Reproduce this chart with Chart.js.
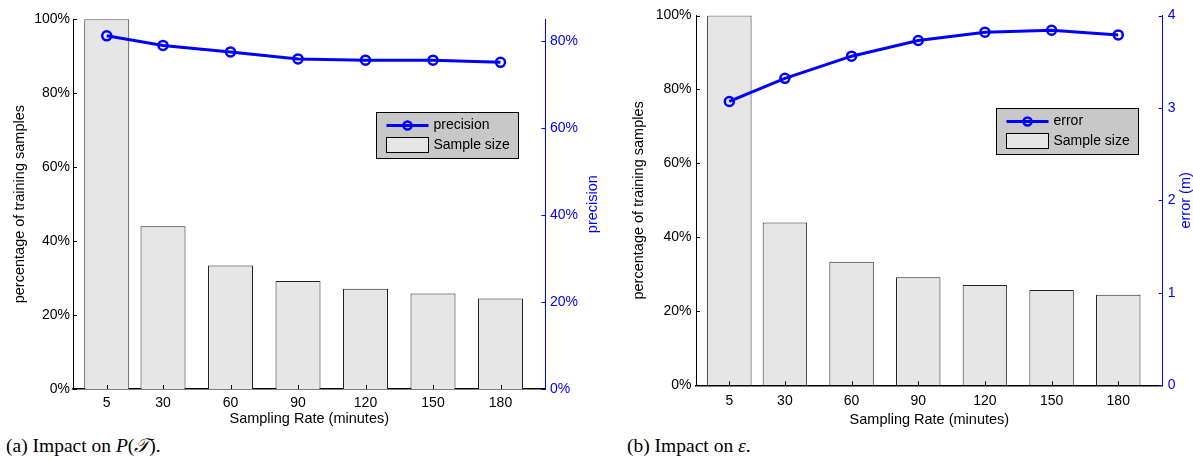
<!DOCTYPE html>
<html lang="en">
  <head>
    <meta charset="UTF-8" />
    <title>Sampling rate impact</title>
    <script src="https://cdn.jsdelivr.net/npm/chart.js"></script>
    <style>
      body {
        margin: 0;
        background: #fff;
        width: 1193px;
        height: 460px;
        position: relative;
        overflow: hidden;
      }
      .box { position: absolute; top: 0; height: 432px; }
      #boxA { left: 0; width: 600px; }
      #boxB { left: 624px; width: 569px; }
      .cap {
        position: absolute;
        top: 435px;
        font-family: "Liberation Serif", "DejaVu Serif", serif;
        font-size: 19.5px;
        color: #000;
        white-space: nowrap;
      }
    </style>
  </head>
  <body>
    <div class="box" id="boxA"><canvas id="chartA"></canvas></div>
    <div class="box" id="boxB"><canvas id="chartB"></canvas></div>
    <div class="cap" style="left: 6px">(a) Impact on <i>P</i>(<i>𝒯</i>).</div>
    <div class="cap" style="left: 627px">(b) Impact on <i>ε</i>.</div>

    <script>
      // data
      const rates = [5, 30, 60, 90, 120, 150, 180];
      const sampleSize = [100, 44, 33.4, 29.2, 27.1, 25.8, 24.5];
      const precision = [81.2, 79.0, 77.5, 75.9, 75.6, 75.6, 75.1];
      const errorM = [3.07, 3.32, 3.56, 3.73, 3.82, 3.84, 3.79];

      const pctTicks = [0, 20, 40, 60, 80, 100];
      const precTicks = [0, 20, 40, 60, 80];
      const errTicks = [0, 1, 2, 3, 4];

      const BLUE = "#0000ff";
      const FONT = "'Liberation Sans', Arial, sans-serif";

      // inward ticks, right-hand title and the boxed legend, drawn like matlab does
      const matlabBits = {
        id: "matlabBits",
        afterDraw(chart, args, opts) {
          const { ctx, chartArea: a, scales } = chart;
          ctx.save();
          ctx.lineWidth = 1;
          ctx.strokeStyle = "#000";
          ctx.beginPath();
          scales.x.ticks.forEach((t) => {
            const px = Math.round(scales.x.getPixelForValue(t.value)) + 0.5;
            ctx.moveTo(px, a.bottom);
            ctx.lineTo(px, a.bottom - 4);
          });
          scales.y.ticks.forEach((t) => {
            const py = Math.round(scales.y.getPixelForValue(t.value)) + 0.5;
            ctx.moveTo(a.left, py);
            ctx.lineTo(a.left + 4, py);
          });
          ctx.stroke();
          ctx.strokeStyle = BLUE;
          ctx.beginPath();
          scales.y2.ticks.forEach((t) => {
            const py = Math.round(scales.y2.getPixelForValue(t.value)) + 0.5;
            ctx.moveTo(a.right, py);
            ctx.lineTo(a.right - 4, py);
          });
          ctx.stroke();

          // right axis title, reads bottom to top
          ctx.save();
          ctx.translate(a.right + opts.titleOffset, (a.top + a.bottom) / 2);
          ctx.rotate(-Math.PI / 2);
          ctx.fillStyle = BLUE;
          ctx.font = "14.5px " + FONT;
          ctx.textAlign = "center";
          ctx.textBaseline = "middle";
          ctx.fillText(opts.title, 0, 0);
          ctx.restore();

          // legend
          const w = 142, h = 46;
          const lx = Math.round(a.right - opts.legendGap - w) + 0.5;
          const ly = Math.round(a.top + 92.5) + 0.5;
          ctx.fillStyle = "#c8c8c8";
          ctx.fillRect(lx, ly, w, h);
          ctx.strokeStyle = "#000";
          ctx.lineWidth = 1;
          ctx.strokeRect(lx, ly, w, h);

          const ds = chart.data.datasets;
          ctx.strokeStyle = BLUE;
          ctx.lineWidth = 3;
          ctx.beginPath();
          ctx.moveTo(lx + 10, ly + 13);
          ctx.lineTo(lx + 52, ly + 13);
          ctx.stroke();
          ctx.lineWidth = 2.5;
          ctx.beginPath();
          ctx.arc(lx + 31, ly + 13, 4, 0, Math.PI * 2);
          ctx.stroke();

          ctx.fillStyle = "#e6e6e6";
          ctx.fillRect(lx + 10, ly + 25, 42, 15);
          ctx.strokeStyle = "#000";
          ctx.lineWidth = 1;
          ctx.strokeRect(lx + 10, ly + 25, 42, 15);

          ctx.fillStyle = "#000";
          ctx.font = "14px " + FONT;
          ctx.textAlign = "left";
          ctx.textBaseline = "middle";
          ctx.fillText(ds[0].label, lx + 57, ly + 13);
          ctx.fillText(ds[1].label, lx + 57, ly + 33);
          ctx.restore();
        },
      };

      function makeChart(id, cfg) {
        const xy = (vals) => vals.map((v, i) => ({ x: rates[i], y: v }));
        return new Chart(document.getElementById(id), {
          type: "bar",
          data: {
            datasets: [
              {
                type: "line",
                label: cfg.lineLabel,
                data: xy(cfg.lineData),
                yAxisID: "y2",
                borderColor: BLUE,
                borderWidth: 3,
                pointRadius: 4.5,
                pointBorderWidth: 2.5,
                pointBackgroundColor: "rgba(0,0,0,0)",
                pointBorderColor: BLUE,
                tension: 0,
                order: 1,
              },
              {
                label: "Sample size",
                data: xy(sampleSize),
                yAxisID: "y",
                backgroundColor: "#e6e6e6",
                borderColor: "#222",
                borderWidth: 1,
                barPercentage: 1,
                categoryPercentage: 0.8,
                order: 2,
              },
            ],
          },
          options: {
            responsive: true,
            maintainAspectRatio: false,
            animation: false,
            layout: { padding: { top: cfg.top, left: 0, right: 0, bottom: 0 } },
            plugins: {
              legend: { display: false },
              tooltip: { enabled: false },
              matlabBits: {
                title: cfg.y2Title,
                titleOffset: cfg.y2TitleOffset,
                legendGap: cfg.legendGap,
              },
            },
            scales: {
              x: {
                type: "linear",
                offset: false,
                min: -10,
                max: 200,
                grid: { display: false, drawTicks: false },
                border: { display: true, color: "#000", width: 1.5 },
                afterBuildTicks: (s) => { s.ticks = rates.map((v) => ({ value: v })); },
                afterFit: (s) => { s.height = cfg.xHeight; },
                ticks: { color: "#000", padding: cfg.xPad, font: { family: FONT, size: 14 } },
                title: {
                  display: true,
                  text: "Sampling Rate (minutes)",
                  color: "#000",
                  font: { family: FONT, size: 14.5 },
                  padding: { top: 0, bottom: cfg.xTitlePad },
                },
              },
              y: {
                position: "left",
                min: 0,
                max: 100,
                grid: { display: false, drawTicks: false },
                border: { display: true, color: "#000", width: 1 },
                afterBuildTicks: (s) => { s.ticks = pctTicks.map((v) => ({ value: v })); },
                afterFit: (s) => { s.width = cfg.yWidth; },
                ticks: {
                  color: "#000",
                  padding: cfg.yPad,
                  font: { family: FONT, size: 14 },
                  callback: (v) => v + "%",
                },
                title: {
                  display: true,
                  text: "percentage of training samples",
                  color: "#000",
                  font: { family: FONT, size: 14.5 },
                  padding: { top: cfg.yTitlePad, bottom: 0 },
                },
              },
              y2: {
                position: "right",
                min: 0,
                max: cfg.y2Max,
                grid: { display: false, drawTicks: false },
                border: { display: true, color: BLUE, width: 1 },
                afterBuildTicks: (s) => { s.ticks = cfg.y2Ticks.map((v) => ({ value: v })); },
                afterFit: (s) => { s.width = cfg.width - cfg.plotRight; },
                ticks: {
                  color: BLUE,
                  padding: cfg.y2Pad,
                  font: { family: FONT, size: 14 },
                  callback: cfg.y2Label,
                },
              },
            },
          },
          plugins: [matlabBits],
        });
      }

      makeChart("chartA", {
        lineLabel: "precision",
        lineData: precision,
        y2Title: "precision",
        y2TitleOffset: 47,
        y2Max: 85,
        y2Ticks: precTicks,
        y2Label: (v) => v + "%",
        y2Pad: 4.5,
        legendGap: 28,
        top: 19.3,
        xHeight: 43,
        xPad: 6,
        xTitlePad: 4.3,
        yWidth: 73,
        yPad: 3,
        yTitlePad: 11.3,
        width: 600,
        plotRight: 545.5,
      });

      makeChart("chartB", {
        lineLabel: "error",
        lineData: errorM,
        y2Title: "error (m)",
        y2TitleOffset: 23,
        y2Max: 4,
        y2Ticks: errTicks,
        y2Label: (v) => v,
        y2Pad: 5,
        legendGap: 25,
        top: 15.5,
        xHeight: 46.7,
        xPad: 7,
        xTitlePad: 3.3,
        yWidth: 72,
        yPad: 4.5,
        yTitlePad: 5.8,
        width: 569,
        plotRight: 538.7,
      });
    </script>
  </body>
</html>
